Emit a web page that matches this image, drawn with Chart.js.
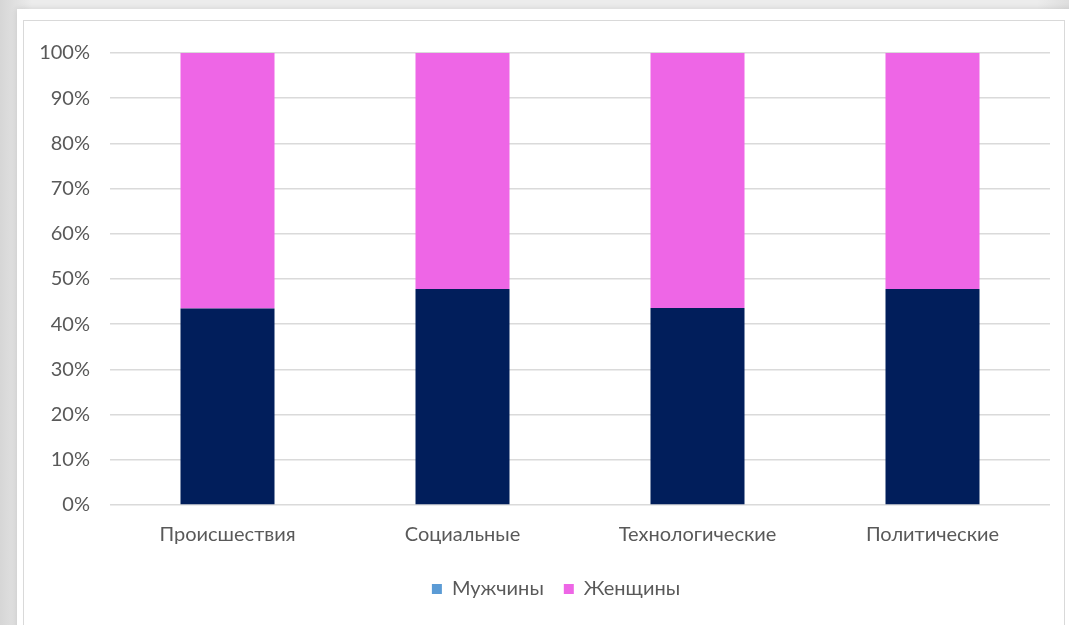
<!DOCTYPE html>
<html>
<head>
<meta charset="utf-8">
<script src="https://cdn.jsdelivr.net/npm/chart.js@4.4.4/dist/chart.umd.min.js"></script>
<style>
  html, body { margin: 0; padding: 0; }
  body { width: 1069px; height: 625px; overflow: hidden; background: linear-gradient(90deg, #d6d6d6, #ececec 3%, #ececec 97%, #dedede); }
  .card { position: absolute; left: 17px; top: 9px; width: 1060px; height: 630px; background: #fff; box-shadow: 0 0 6px rgba(0,0,0,0.12); }
  .frame { position: absolute; left: 23px; top: 20px; width: 1040px; height: 620px; border: 1px solid #d9d9d9; background: #fff; }
  .chart { position: absolute; left: 24px; top: 21px; width: 1038px; height: 604px; }
</style>
</head>
<body>
<div class="card"></div>
<div class="frame"></div>
<div class="chart"><canvas id="c"></canvas></div>
<script>
// categories and shares (percent)
const categories = ['Происшествия', 'Социальные', 'Технологические', 'Политические'];
const men = [43.5, 47.8, 43.6, 47.8];
const women = [56.5, 52.2, 56.4, 52.2];
const seriesNames = ['Мужчины', 'Женщины'];
const barColors = ['#011e5b', '#ee66e6'];
const legendColors = ['#5b9bd5', '#ee66e6'];

const font = { family: 'Lato, "Open Sans", sans-serif', size: 20 };

const data = {
  labels: categories,
  datasets: [
    { label: seriesNames[0], data: men, backgroundColor: barColors[0] },
    { label: seriesNames[1], data: women, backgroundColor: barColors[1] },
  ]
};

// the original legend sits a little right of the canvas centre
const legendShift = {
  id: 'legendShift',
  afterLayout(chart) {
    chart.legend.left += 19;
    chart.legend.right += 19;
  }
};

const options = {
  responsive: true,
  maintainAspectRatio: false,
  animation: false,
  layout: { padding: { top: 30, right: 12, bottom: 16 } },
  datasets: { bar: { categoryPercentage: 0.4, barPercentage: 1 } },
  scales: {
    x: {
      stacked: true,
      grid: { display: false },
      border: { display: false },
      ticks: { color: '#595959', font, padding: 10 },
      afterFit: s => { s.height = 54; }
    },
    y: {
      stacked: true,
      min: 0, max: 100,
      ticks: { stepSize: 10, color: '#595959', font, padding: 20, callback: v => v + '%' },
      grid: { color: '#dadada', lineWidth: 1.5, drawTicks: false },
      border: { display: false },
      afterFit: s => { s.width = 86; }
    }
  },
  plugins: {
    legend: {
      position: 'bottom',
      labels: {
        color: '#595959', font, boxWidth: 10, boxHeight: 10, padding: 20,
        generateLabels: chart => chart.data.datasets.map((ds, i) => ({
          text: ds.label, fillStyle: legendColors[i], strokeStyle: legendColors[i],
          lineWidth: 0, datasetIndex: i, fontColor: '#595959'
        }))
      }
    },
    tooltip: { enabled: false }
  }
};

new Chart(document.getElementById('c'), { type: 'bar', data, options, plugins: [legendShift] });
</script>
</body>
</html>
